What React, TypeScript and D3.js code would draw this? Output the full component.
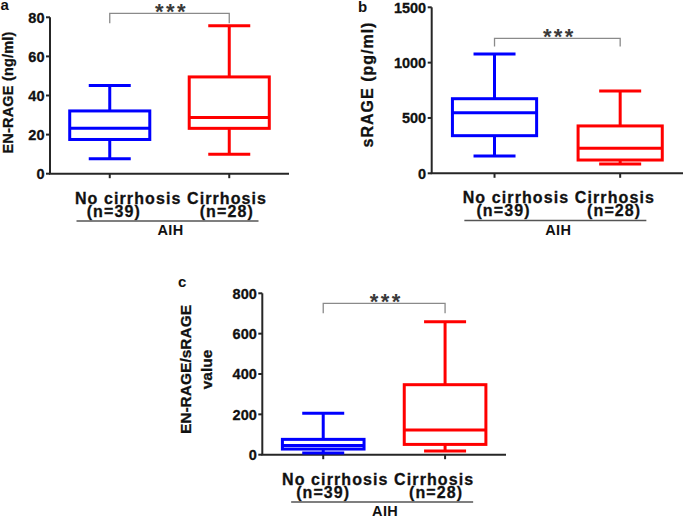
import React from 'react';
import * as d3 from 'd3';

const categories = ['No cirrhosis', 'Cirrhosis'];
const sampleSizes = ['(n=39)', '(n=28)'];
const groupName = 'AIH';
const significance = '***';

// box summaries: [min, q1, median, q3, max]
const enRageNoCirrhosis = [7.7, 17.5, 23.3, 32.1, 45.1];
const enRageCirrhosis = [9.9, 23.2, 28.8, 49.5, 75.7];
const sRageNoCirrhosis = [156, 340, 548, 674, 1078];
const sRageCirrhosis = [84, 120, 226, 428, 744];
const ratioNoCirrhosis = [8, 28, 45, 76, 206];
const ratioCirrhosis = [18, 51, 122, 347, 659];

const enRageTicks = [0, 20, 40, 60, 80];
const sRageTicks = [0, 500, 1000, 1500];
const ratioTicks = [0, 200, 400, 600, 800];

const colors = ['#0000ff', '#ff0000'];
const FONT = '"Liberation Sans", Arial, Helvetica, sans-serif';

type PanelCfg = {
  letter: string;
  letterPos: [number, number];
  x0: number;
  x1: number;
  yBottom: number;
  yTop: number;
  max: number;
  ticks: number[];
  series: number[][];
  yLabel: string[];
  yLabelX: number[];
  yLabelY: number;
  yLabelSize: number;
  yLabelSpacing: number;
  bracket: number;
  bracketEnd: number;
  catOffset: number;
  nOffsets: number[];
};

const panels: PanelCfg[] = [
  {
    letter: 'a', letterPos: [0.5, 9.5], x0: 50, x1: 289, yBottom: 173.7, yTop: 17.3, max: 80,
    ticks: enRageTicks, series: [enRageNoCirrhosis, enRageCirrhosis],
    yLabel: ['EN-RAGE (ng/ml)'], yLabelX: [12.7], yLabelY: 92.5, yLabelSize: 14.5, yLabelSpacing: 0.2,
    bracket: 82, bracketEnd: 77, catOffset: 1.5, nOffsets: [4, -2.5],
  },
  {
    letter: 'b', letterPos: [358, 12], x0: 431.7, x1: 683, yBottom: 173.3, yTop: 7.3, max: 1500,
    ticks: sRageTicks, series: [sRageNoCirrhosis, sRageCirrhosis],
    yLabel: ['sRAGE (pg/ml)'], yLabelX: [372.5], yLabelY: 84.5, yLabelSize: 16, yLabelSpacing: 1,
    bracket: 1220, bracketEnd: 1145, catOffset: 1.5, nOffsets: [9, -6],
  },
  {
    letter: 'c', letterPos: [178, 287], x0: 262.3, x1: 506, yBottom: 454.7, yTop: 293.3, max: 800,
    ticks: ratioTicks, series: [ratioNoCirrhosis, ratioCirrhosis],
    yLabel: ['EN-RAGE/sRAGE', 'value'], yLabelX: [191, 211.7], yLabelY: 369.5, yLabelSize: 15.5, yLabelSpacing: 0,
    bracket: 750.5, bracketEnd: 701, catOffset: -6, nOffsets: [0, -9],
  },
];

function Panel({ p }: { p: PanelCfg }) {
  const W = p.x1 - p.x0;
  const x = d3.scalePoint<string>().domain(categories).range([p.x0, p.x1]).padding(0.5);
  const y = d3.scaleLinear().domain([0, p.max]).range([p.yBottom, p.yTop]);
  const boxW = W * 0.335;
  const capW = 42;
  const axisColor = '#262626';
  const mid = p.x0 + W / 2;
  const xa = x(categories[0])!;
  const xb = x(categories[1])!;
  const yb = y(p.bracket);
  const ye = y(p.bracketEnd);
  return (
    <g>
      <text x={p.letterPos[0]} y={p.letterPos[1]} fontSize={15} fontWeight="bold" fontFamily={FONT} fill="#111">{p.letter}</text>
      {p.yLabel.map((t, i) => (
        <text key={i} transform={`translate(${p.yLabelX[i]},${p.yLabelY}) rotate(-90)`} textAnchor="middle"
          fontSize={p.yLabelSize} fontWeight="bold" fontFamily={FONT} fill="#111" letterSpacing={p.yLabelSpacing}
          stroke="#111" strokeWidth={0.3}>{t}</text>
      ))}
      {/* y axis */}
      <line x1={p.x0} x2={p.x0} y1={y(0)} y2={y(p.max)} stroke={axisColor} strokeWidth={2} />
      {p.ticks.map((t) => (
        <g key={t}>
          <line x1={p.x0 - 4} x2={p.x0} y1={y(t)} y2={y(t)} stroke={axisColor} strokeWidth={2} />
          <text x={p.x0 - 5.5} y={y(t)} dy="0.36em" textAnchor="end" fontSize={14.5} fontWeight="bold" fontFamily={FONT}
            fill="#111" stroke="#111" strokeWidth={0.3}>{t}</text>
        </g>
      ))}
      {/* x axis */}
      <line x1={p.x0 - 1} x2={p.x1} y1={y(0)} y2={y(0)} stroke={axisColor} strokeWidth={2} />
      {categories.map((c) => (
        <line key={c} x1={x(c)} x2={x(c)} y1={y(0)} y2={y(0) + 4.5} stroke={axisColor} strokeWidth={2} />
      ))}
      {/* boxes */}
      {categories.map((c, i) => {
        const s = p.series[i];
        const cx = x(c)!;
        const col = colors[i];
        return (
          <g key={c} stroke={col} strokeWidth={3} fill="none">
            <line x1={cx} x2={cx} y1={y(s[0])} y2={y(s[1])} />
            <line x1={cx} x2={cx} y1={y(s[3])} y2={y(s[4])} />
            <line x1={cx - capW / 2} x2={cx + capW / 2} y1={y(s[0])} y2={y(s[0])} />
            <line x1={cx - capW / 2} x2={cx + capW / 2} y1={y(s[4])} y2={y(s[4])} />
            <rect x={cx - boxW / 2} y={y(s[3])} width={boxW} height={y(s[1]) - y(s[3])} fill="#fff" />
            <line x1={cx - boxW / 2} x2={cx + boxW / 2} y1={y(s[2])} y2={y(s[2])} />
          </g>
        );
      })}
      {/* significance bracket */}
      <path d={`M${xa},${ye}V${yb}H${xb}V${ye}`} fill="none" stroke="#8a8a8a" strokeWidth={1.3} />
      <text x={(xa + xb) / 2 + 2} y={yb + 5.8} textAnchor="middle" fontSize={22} fontWeight="bold" fontFamily={FONT}
        fill="#3a3a3a" letterSpacing={2.4}>{significance}</text>
      {/* category labels */}
      <text x={mid + p.catOffset} y={y(0) + 29.8} textAnchor="middle" fontSize={16} fontWeight="bold" fontFamily={FONT}
        fill="#111" letterSpacing={1.1} stroke="#111" strokeWidth={0.3}>{categories.join(' ')}</text>
      {categories.map((c, i) => (
        <text key={c} x={x(c)! + p.nOffsets[i]} y={y(0) + 43} textAnchor="middle" fontSize={16} fontWeight="bold"
          fontFamily={FONT} fill="#111" letterSpacing={1.1} stroke="#111" strokeWidth={0.3}>{sampleSizes[i]}</text>
      ))}
      <line x1={mid - 93} x2={mid + 89} y1={y(0) + 47.3} y2={y(0) + 47.3} stroke="#555" strokeWidth={1.5} />
      <text x={mid + 1} y={y(0) + 61.5} textAnchor="middle" fontSize={14.5} fontWeight="bold" fontFamily={FONT}
        fill="#111" letterSpacing={0.4}>{groupName}</text>
    </g>
  );
}

export default function App() {
  return (
    <svg width={685} height={518} style={{ position: 'absolute', left: 0, top: 0, background: '#fff' }}>
      <rect width={685} height={518} fill="#fff" />
      {panels.map((p) => <Panel key={p.letter} p={p} />)}
    </svg>
  );
}
